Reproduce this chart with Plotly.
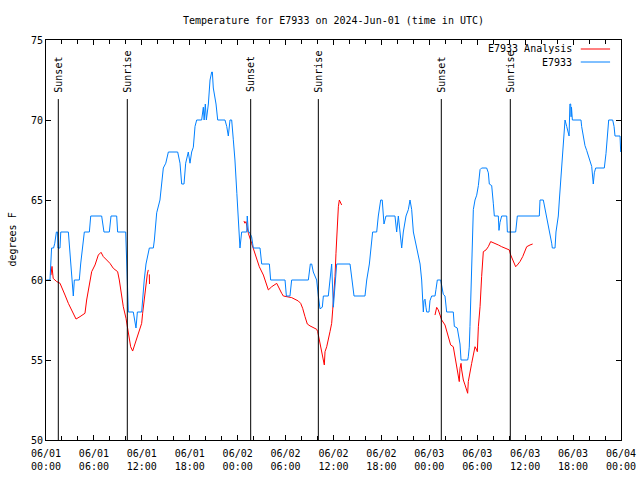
import pandas as pd
import plotly.graph_objects as go

# ---------------- data (hours after 2024-06-01 00:00 UTC, deg F) ----------------
blue_obs = [(0.05,60),(0.5,60),(0.7,62),(0.95,62),(1.1,62.3),(1.3,63),(1.45,63),(1.5,62),(1.75,62),(1.85,63),
    (2.8,63),(3.0,61.5),(3.3,59.5),(3.42,59),(3.55,60),(4.17,60),(4.34,61),(4.6,62),(4.8,63),(5.43,63),(5.6,64),
    (6.97,64),(7.26,63),(7.93,63),(8.14,64),(8.85,64),(8.97,63),(9.98,63),(10.1,61),(10.18,61),(10.31,58),
    (10.93,58),(11.1,57.5),(11.27,57),(11.44,58),(11.98,58),(12.3,60),(12.52,61),(12.94,62),(13.44,62),
    (13.57,62.5),(13.86,64.2),(14.27,65),(14.69,67),(15.0,67.3),(15.32,68),(16.49,68),(16.78,67.3),(16.99,66),
    (17.28,66),(17.49,67.3),(17.82,68),(18.03,67.3),(18.24,68),(18.45,68.3),(18.66,69.6),(18.87,70),(19.49,70),
    (19.70,70.8),(19.8,70),(19.95,71),(20.08,70),(20.33,71),(20.54,72.5),(20.75,73),(20.83,73),(20.95,72),
    (21.29,71),(21.50,70),(22.41,70),(22.63,69.6),(22.83,69),(23.04,70),(23.25,70),(23.45,68.8),(23.66,67.5),
    (23.9,65.4),(24.08,63.5),(24.29,62),(24.50,63),(25.13,63),(25.2,64),(25.34,63),(25.46,63),(25.75,62.7),
    (25.96,62),(26.80,62),(27.01,61),(27.97,61),(28.13,60),(29.93,60),(30.1,59),(30.55,59),(30.76,60),
    (32.85,60),(33.1,61),(33.27,61),(33.47,60.5),(33.89,60),(34.1,59),(34.31,58.2),(34.6,58.3),(34.73,59),
    (35.35,59),(35.56,60),(35.77,61),(35.98,58.3),(36.1,59),(36.19,60),(36.40,61),(38.07,61),(38.28,60),
    (38.57,59),(39.94,59),(40.16,60),(40.49,61),(40.7,62),(40.90,63),(41.41,63),(41.61,64),(41.91,65),(42.1,65),
    (42.32,63.5),(42.57,64),(43.70,64),(43.91,63),(44.12,64),(44.33,63),(44.54,62),(44.74,63),(45.08,64),
    (45.37,64.4),(45.58,65),(45.79,64.4),(46.00,63),(46.42,62),(46.84,61),(47.04,60),(47.17,58.7),(47.25,58),
    (47.33,58.7),(47.46,58.8),(47.58,58.3),(47.67,58),(47.96,58),(48.08,58.7),(48.29,59),(48.71,59),(48.83,59.4),
    (49.0,60),(49.42,60),(49.54,59.6),(49.75,59.1),(49.96,59),(50.17,58),(51.0,58),(51.13,57.1),(51.5,57),
    (51.63,56.7),(51.84,56),(51.97,55),(52.80,55),(52.88,55.2),(53.0,55.8),(53.09,57.1),(53.18,59.2),(53.30,61),
    (53.43,63),(53.51,64.4),(53.63,64.9),(53.72,65),(53.93,65.3),(54.14,65.9),(54.35,66.9),(54.55,67),(55.18,67),
    (55.39,66.7),(55.51,66),(55.81,65.9),(56.01,64.8),(56.14,64),(56.64,64),(56.72,63.1),(56.85,63.6),(57.06,64),
    (57.69,64),(57.77,63),(58.81,63),(59.02,64),(61.77,64),(61.86,65),(62.27,65),(62.48,64.5),(62.69,64),
    (62.9,63.5),(63.11,63),(63.32,62.3),(63.4,62),(63.74,62),(63.86,63),(64.15,64),(64.28,65),(64.57,67),
    (64.78,68.5),(64.99,70),(65.2,69.6),(65.40,69.1),(65.5,69),(65.6,71),(65.70,71),(65.75,70.2),(65.8,70.8),
    (65.91,70),(66.99,70),(67.07,69.6),(67.28,69),(67.49,68.4),(67.70,68.1),(67.91,67.8),(68.12,67.5),
    (68.33,67.1),(68.53,66),(68.66,66.7),(68.83,67),(69.91,67),(70.12,67.9),(70.29,69.1),(70.46,70),(70.96,70),
    (71.13,69.6),(71.25,69),(71.88,69),(71.96,68)]

red_seg1 = [(0.62,60.3),(0.75,60.85),(0.9,60.1),(1.34,59.9),(1.75,59.8),(1.96,59.58),(2.38,59.06),(2.80,58.54),
    (3.21,58.13),(3.76,57.56),(4.26,57.71),(4.88,57.92),(5.09,58.75),(5.43,59.69),(5.72,60.52),(6.14,60.94),
    (6.55,61.56),(6.89,61.73),(7.18,61.46),(7.60,61.25),(8.01,61.04),(8.43,60.73),(8.97,60.52),(9.18,60.0),
    (9.47,59.06),(9.68,58.33),(10.02,57.60),(10.22,56.98),(10.43,56.25),(10.60,55.83),(10.85,55.56),(11.14,56.04),
    (11.44,56.56),(11.77,57.08),(11.98,57.29),(12.10,57.92),(12.31,58.85),(12.48,59.69),(12.69,60.38),(12.81,60.63)]
red_seg1b = [(12.94,60.35),(12.96,59.75)]
red_seg2 = [(24.79,63.69),(24.9,63.55),(25.04,63.65),(25.34,62.92),(25.75,62.29),(26.17,61.67),(26.38,61.25),
    (26.71,60.83),(27.22,60.31),(27.64,59.58),(27.84,59.38),(28.26,59.58),(28.89,59.79),(29.51,59.17),(29.72,59.0),
    (30.76,58.9),(31.59,58.69),(31.89,58.54),(32.14,58.23),(32.43,57.71),(32.72,57.25),(33.06,57.13),(33.89,56.92),
    (34.02,56.77),(34.22,56.25),(34.52,55.42),(34.73,55.0),(34.85,54.69),(34.94,55.52),(35.15,55.83),(35.56,56.77),
    (35.77,57.29),(35.90,58.13),(36.06,59.17),(36.19,60.21),(36.31,61.67),(36.48,63.54),(36.61,64.58),(36.73,65.0),
    (36.90,64.79),(37.02,64.69)]
red_seg3 = [(48.71,57.81),(48.92,58.29),(49.12,58.13),(49.34,57.81),(49.55,57.5),(49.96,57.19),(50.38,56.35),
    (50.67,55.94),(51.00,55.83),(51.21,55.21),(51.42,54.69),(51.63,53.96),(51.75,53.65),(51.84,54.48),(51.97,54.79),
    (52.05,54.38),(52.26,53.75),(52.47,53.44),(52.68,53.02),(52.80,52.92),(52.88,53.65),(53.09,54.38),(53.30,54.79),
    (53.51,55.31),(53.72,55.83),(53.93,55.63),(54.01,55.52),(54.14,57.08),(54.35,58.33),(54.55,60.21),(54.76,61.77),
    (55.10,61.88),(55.38,62.08),(55.68,62.40),(56.01,62.33),(56.35,62.29),(56.64,62.19),(57.06,62.08),(57.60,61.98),
    (58.01,61.88),(58.19,61.56),(58.52,61.15),(58.81,60.83),(59.02,60.94),(59.35,61.15),(59.69,61.46),(59.98,61.88),
    (60.19,62.08),(60.61,62.19),(60.94,62.25)]

sun_hours = [1.54, 10.18, 25.63, 34.1, 49.5, 58.14]
sun_labels = ["Sunset", "Sunrise", "Sunset", "Sunrise", "Sunset", "Sunrise"]

tick_hours = [0, 6, 12, 18, 24, 30, 36, 42, 48, 54, 60, 66, 72]
tick_labels = ["06/01<br>00:00", "06/01<br>06:00", "06/01<br>12:00", "06/01<br>18:00",
               "06/02<br>00:00", "06/02<br>06:00", "06/02<br>12:00", "06/02<br>18:00",
               "06/03<br>00:00", "06/03<br>06:00", "06/03<br>12:00", "06/03<br>18:00",
               "06/04<br>00:00"]
y_ticks = [50, 55, 60, 65, 70, 75]

title_text = "Temperature for E7933 on 2024-Jun-01 (time in UTC)"
series_names = ["E7933 Analysis", "E7933"]
series_colors = ["#ff0000", "#0080ff"]

# ---------------- build ----------------
base = pd.Timestamp("2024-06-01 00:00")
def T(h):
    return base + pd.Timedelta(hours=h)

FONT = "DejaVu Sans Mono"

bx = [T(h) for h, v in blue_obs]
by = [v for h, v in blue_obs]

rx, ry = [], []
for seg in (red_seg1, red_seg1b, red_seg2, red_seg3):
    rx += [T(h) for h, v in seg] + [None]
    ry += [v for h, v in seg] + [None]

fig = go.Figure()
fig.add_trace(go.Scatter(x=rx, y=ry, mode="lines", name=series_names[0],
                         line=dict(color=series_colors[0], width=1), connectgaps=False, showlegend=False))
fig.add_trace(go.Scatter(x=bx, y=by, mode="lines", name=series_names[1],
                         line=dict(color=series_colors[1], width=1), showlegend=False))

line_top = 71.31
label_bottom = 71.6
for h, lab in zip(sun_hours, sun_labels):
    fig.add_shape(type="line", xref="x", yref="y", x0=T(h), x1=T(h), y0=50, y1=line_top,
                  line=dict(color="black", width=1))
    fig.add_annotation(x=T(h), y=label_bottom, xref="x", yref="y", text=lab, showarrow=False,
                       textangle=-90, xanchor="center", yanchor="bottom",
                       font=dict(family=FONT, size=10, color="black"))

# legend (text to the left of sample, gnuplot style)
leg_y = [0.9775, 0.945]
for name, col, yy in zip(series_names, series_colors, leg_y):
    fig.add_annotation(x=0.918, y=yy, xref="paper", yref="paper", text=name, showarrow=False,
                       xanchor="right", yanchor="middle", font=dict(family=FONT, size=10, color="black"))
    fig.add_shape(type="line", xref="paper", yref="paper", x0=0.930, x1=0.981, y0=yy, y1=yy,
                  line=dict(color=col, width=1))

# y axis title
fig.add_annotation(x=-0.060, y=0.5, xref="paper", yref="paper", text="degrees F", showarrow=False,
                   textangle=-90, xanchor="center", yanchor="middle",
                   font=dict(family=FONT, size=10, color="black"))

fig.update_layout(
    width=640, height=480, autosize=False,
    margin=dict(l=46, r=19, t=40, b=40, autoexpand=False),
    paper_bgcolor="white", plot_bgcolor="white",
    font=dict(family=FONT, size=10, color="black"),
    title=dict(text=title_text, x=0.5, xref="paper", y=1 - 20 / 480, yref="container",
               xanchor="center", yanchor="middle", font=dict(family=FONT, size=10, color="black")),
    showlegend=False,
)
fig.update_xaxes(
    type="date", range=[T(0), T(72)],
    tickvals=[T(h) for h in tick_hours], ticktext=tick_labels,
    ticks="inside", ticklen=5, tickcolor="black", tickwidth=1, ticklabelstandoff=4,
    minor=dict(dtick=2 * 3600 * 1000, tick0=T(0), ticks="inside", ticklen=4, tickcolor="black", showgrid=False),
    showline=True, linecolor="black", linewidth=1, mirror="ticks", showgrid=False, zeroline=False,
    tickfont=dict(family=FONT, size=10, color="black"), automargin=False,
)
fig.update_yaxes(
    range=[50, 75], tickvals=y_ticks, ticks="inside", ticklen=5, tickcolor="black",
    showline=True, linecolor="black", linewidth=1, mirror="ticks", showgrid=False, zeroline=False,
    tickfont=dict(family=FONT, size=10, color="black"), automargin=False,
)

fig.write_html("out.html", config={"displayModeBar": False, "responsive": False},
               post_script="document.body.style.margin='0';")
